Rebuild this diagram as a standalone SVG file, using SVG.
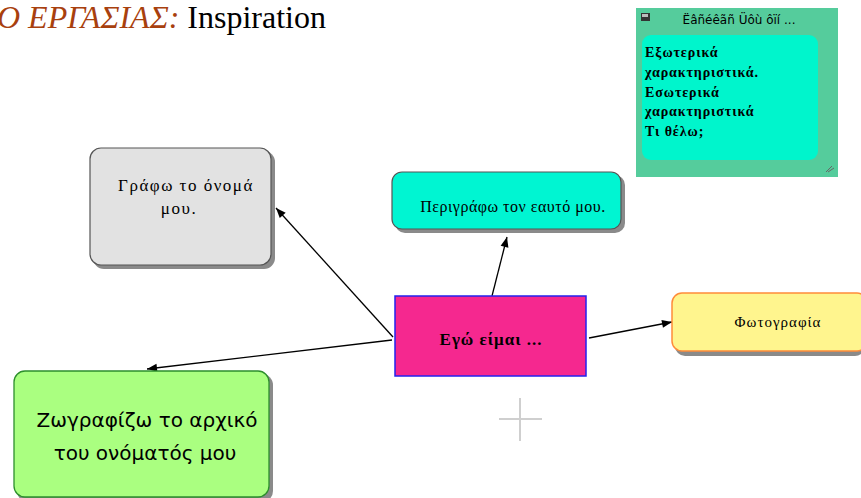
<svg xmlns="http://www.w3.org/2000/svg" width="861" height="498" viewBox="0 0 861 498">
<style>
.serif{font-family:"Liberation Serif","DejaVu Serif",serif;}
.sans{font-family:"DejaVu Sans","Liberation Sans",sans-serif;}
.lbl{font-family:"Liberation Serif","DejaVu Serif",serif;fill:#000;text-anchor:middle;}
.shadow{fill:#8a8a8a;}
.conn{stroke:#000;stroke-width:1.3;fill:none;marker-end:url(#ah);}
</style>
<defs>
<marker id="ah" viewBox="0 0 10 10" refX="10" refY="5" markerWidth="14" markerHeight="10" markerUnits="userSpaceOnUse" orient="auto">
<path d="M0,1 L10,5 L0,9 z" fill="#000"/>
</marker>
</defs>
<rect width="861" height="498" fill="#fff"/>
<g id="title">
<text x="-3" y="28" class="serif" font-size="32"><tspan fill="#a8400e" font-style="italic">Ο ΕΡΓΑΣΙΑΣ:</tspan><tspan fill="#000"> Inspiration</tspan></text>
</g>
<g id="note">
<rect x="636" y="8" width="202" height="169" fill="#55cc9c"/>
<rect x="641" y="13" width="9" height="8" fill="#333"/>
<rect x="642" y="14" width="6" height="3" fill="#bbb"/>
<text x="739" y="24" class="sans" font-size="12" text-anchor="middle" fill="#000">Ëâñéêãñ Üôù ôïí ...</text>
<rect x="642" y="35" width="176" height="125" rx="9" fill="#00f5cc"/>
<text class="serif" font-size="14" font-weight="bold" letter-spacing="0.9" fill="#000"><tspan x="645" y="57">Εξωτερικά</tspan><tspan x="645" y="77">χαρακτηριστικά.</tspan><tspan x="645" y="97">Εσωτερικά</tspan><tspan x="645" y="116">χαρακτηριστικά</tspan><tspan x="645" y="136">Τι θέλω;</tspan></text>
<path d="M826,172 l6,-6 M828,172 l6,-4" stroke="#666" stroke-width="1"/>
</g>
<g id="connectors">
<line x1="393" y1="337" x2="276" y2="208" class="conn"/>
<line x1="392" y1="340" x2="147" y2="369" class="conn"/>
<line x1="492" y1="296" x2="507" y2="237" class="conn"/>
<line x1="589" y1="338" x2="672" y2="322" class="conn"/>
</g>
<g id="node-gray">
<rect x="93" y="151" width="182" height="118" rx="11" class="shadow"/>
<rect x="90" y="148" width="181" height="117" rx="11" fill="#e2e2e2" stroke="#555" stroke-width="1.2"/>
<text class="lbl" font-size="17" letter-spacing="1.5"><tspan x="186" y="191">Γράφω το όνομά</tspan><tspan x="179" y="214">μου.</tspan></text>
</g>
<g id="node-cyan">
<rect x="395" y="175" width="230" height="58" rx="10" class="shadow"/>
<rect x="392" y="172" width="229" height="57" rx="10" fill="#00f5d2" stroke="#555" stroke-width="1.2"/>
<text class="lbl" x="513" y="212" font-size="16" letter-spacing="0.5">Περιγράφω τον εαυτό μου.</text>
</g>
<g id="node-center">
<rect x="395" y="296" width="191" height="80" fill="#f5288f" stroke="#2222ee" stroke-width="1.5"/>
<text class="lbl" x="491" y="345" font-weight="bold" font-size="17" letter-spacing="1">Εγώ είμαι ...</text>
</g>
<g id="node-yellow">
<rect x="675" y="296" width="190" height="60" rx="10" class="shadow"/>
<rect x="672" y="293" width="195" height="58" rx="10" fill="#fff58e" stroke="#ff8c3a" stroke-width="1.5"/>
<text class="lbl" x="778" y="327" font-size="15" letter-spacing="1">Φωτογραφία</text>
</g>
<g id="node-green">
<rect x="17" y="374" width="256" height="128" rx="11" class="shadow"/>
<rect x="14" y="371" width="255" height="126" rx="11" fill="#aaff80" stroke="#2d8f2d" stroke-width="1.3"/>
<text class="sans" font-size="20" text-anchor="middle" fill="#000"><tspan x="147" y="427">Ζωγραφίζω το αρχικό</tspan><tspan x="145" y="460">του ονόματός μου</tspan></text>
</g>
<g id="cross">
<line x1="499" y1="419" x2="542" y2="419" stroke="#cfcfcf" stroke-width="2"/>
<line x1="520" y1="398" x2="520" y2="441" stroke="#cfcfcf" stroke-width="2"/>
</g>
</svg>
